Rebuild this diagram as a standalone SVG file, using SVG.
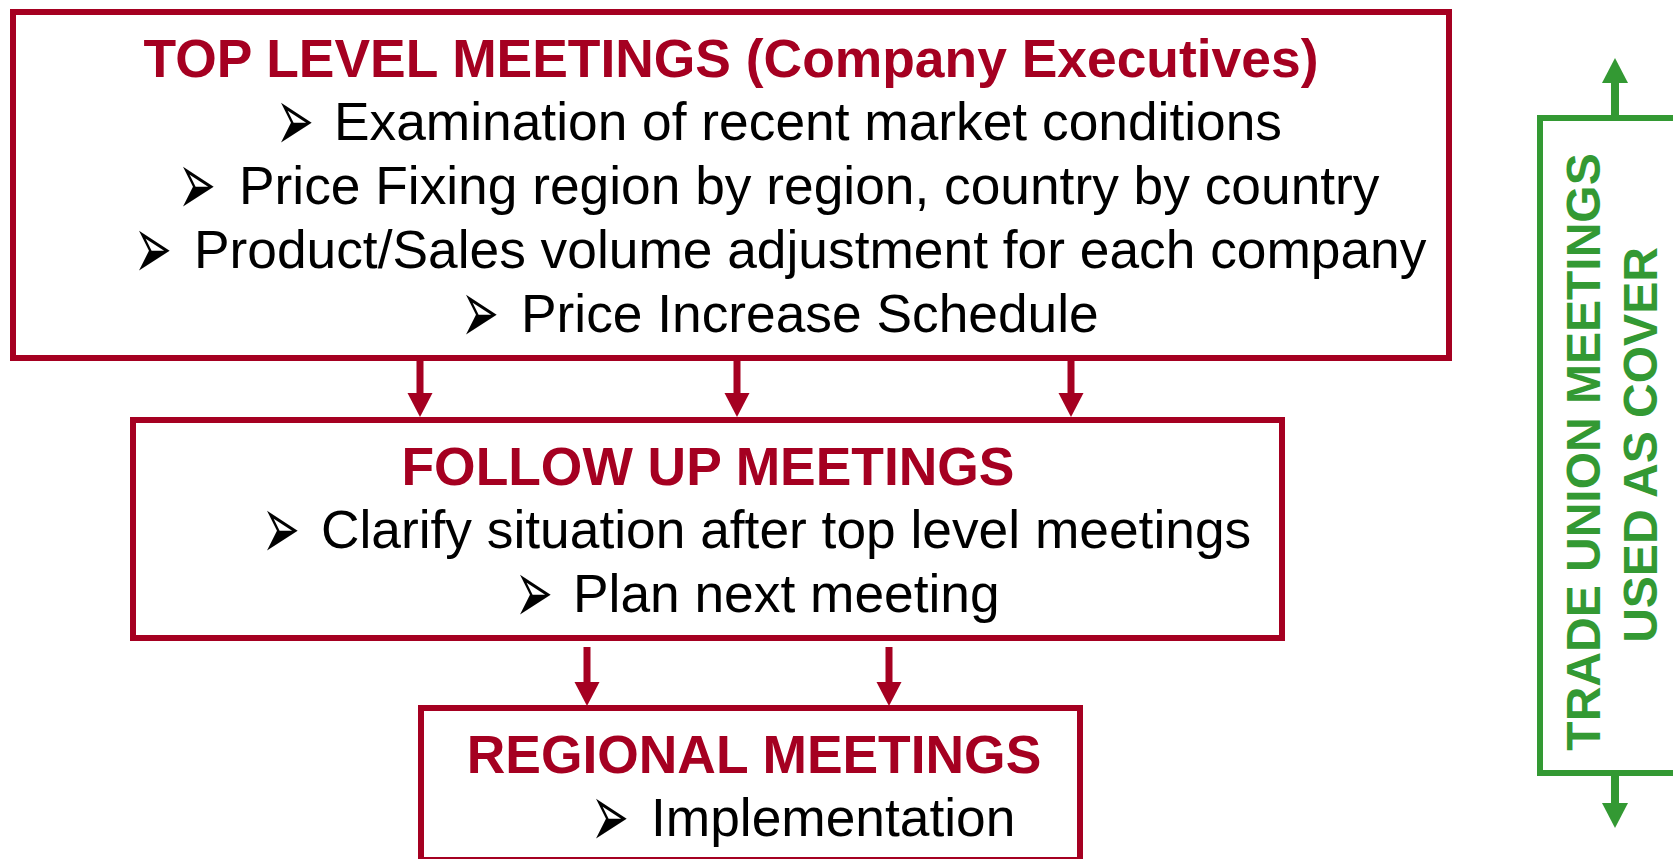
<svg xmlns="http://www.w3.org/2000/svg" width="1673" height="859" viewBox="0 0 1673 859">
  <defs>
    <style>
      .box { fill: #ffffff; stroke: #A50021; stroke-width: 6; }
      .gbox { fill: none; stroke: #339933; stroke-width: 6; }
      .title { font-family: "Liberation Sans", Arial, sans-serif; font-weight: bold; font-size: 53.4px; fill: #A50021; text-anchor: middle; }
      .item { font-family: "Liberation Sans", Arial, sans-serif; font-size: 53.3px; fill: #000000; }
      .bullet { font-family: "DejaVu Sans", sans-serif; font-size: 40px; fill: #000000; }
      .side { font-family: "Liberation Sans", Arial, sans-serif; font-weight: bold; font-size: 48px; fill: #339933; text-anchor: middle; }
      .rline { stroke: #A50021; stroke-width: 7; fill: none; }
      .gline { stroke: #339933; stroke-width: 8; fill: none; }
    </style>
    <marker id="redHead" markerUnits="userSpaceOnUse" markerWidth="26" markerHeight="26" refX="0" refY="12.5" orient="auto">
      <path d="M0,0 L24,12.5 L0,25 z" fill="#A50021"/>
    </marker>
    <marker id="greenHead" markerUnits="userSpaceOnUse" markerWidth="27" markerHeight="27" refX="0" refY="13" orient="auto">
      <path d="M0,0 L25,13 L0,26 z" fill="#339933"/>
    </marker>
  </defs>

  <rect width="1673" height="859" fill="#ffffff"/>

  <!-- connectors -->
  <g id="connectors">
    <line class="rline" x1="420" y1="358" x2="420" y2="393" marker-end="url(#redHead)"/>
    <line class="rline" x1="737" y1="358" x2="737" y2="393" marker-end="url(#redHead)"/>
    <line class="rline" x1="1071" y1="358" x2="1071" y2="393" marker-end="url(#redHead)"/>
    <line class="rline" x1="587" y1="647" x2="587" y2="682" marker-end="url(#redHead)"/>
    <line class="rline" x1="889" y1="647" x2="889" y2="682" marker-end="url(#redHead)"/>
    <line class="gline" x1="1615" y1="118" x2="1615" y2="83" marker-end="url(#greenHead)"/>
    <line class="gline" x1="1615" y1="772" x2="1615" y2="803" marker-end="url(#greenHead)"/>
  </g>

  <!-- top level meetings -->
  <g id="top-level">
    <rect class="box" x="13" y="12" width="1436" height="346"/>
    <text class="title" x="731" y="77">TOP LEVEL MEETINGS (Company Executives)</text>
    <text class="bullet" transform="translate(276,151) scale(1.13,2.26)">➢</text>
    <text class="item" x="334" y="140">Examination of recent market conditions</text>
    <text class="bullet" transform="translate(178,215) scale(1.13,2.26)">➢</text>
    <text class="item" x="239" y="204">Price Fixing region by region, country by country</text>
    <text class="bullet" transform="translate(134,279) scale(1.13,2.26)">➢</text>
    <text class="item" x="194" y="268">Product/Sales volume adjustment for each company</text>
    <text class="bullet" transform="translate(461,343) scale(1.13,2.26)">➢</text>
    <text class="item" x="521" y="332">Price Increase Schedule</text>
  </g>

  <!-- follow up meetings -->
  <g id="follow-up">
    <rect class="box" x="133" y="420" width="1149" height="218"/>
    <text class="title" x="708" y="485">FOLLOW UP MEETINGS</text>
    <text class="bullet" transform="translate(262,559) scale(1.13,2.26)">➢</text>
    <text class="item" x="321" y="548">Clarify situation after top level meetings</text>
    <text class="bullet" transform="translate(515,623) scale(1.13,2.26)">➢</text>
    <text class="item" x="573" y="612">Plan next meeting</text>
  </g>

  <!-- regional meetings -->
  <g id="regional">
    <rect class="box" x="421" y="708" width="659" height="152"/>
    <text class="title" x="754" y="773">REGIONAL MEETINGS</text>
    <text class="bullet" transform="translate(591,847) scale(1.13,2.26)">➢</text>
    <text class="item" x="651" y="836">Implementation</text>
  </g>

  <!-- trade union cover bracket -->
  <g id="trade-union">
    <rect class="gbox" x="1540" y="118" width="170" height="655"/>
    <text class="side" transform="translate(1600,452) rotate(-90)">TRADE UNION MEETINGS</text>
    <text class="side" transform="translate(1657,445) rotate(-90)">USED AS COVER</text>
  </g>
</svg>
